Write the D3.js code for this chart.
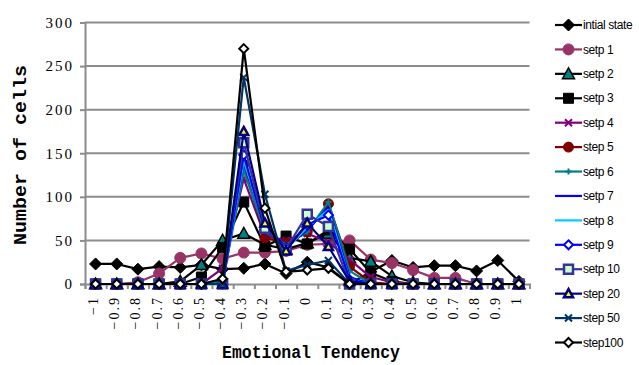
<!DOCTYPE html>
<html>
<head>
<meta charset="utf-8">
<script src="https://cdn.jsdelivr.net/npm/d3@7"></script>
<style>
  html, body { margin: 0; padding: 0; background: #fff; }
  svg { display: block; }
</style>
</head>
<body>
<svg id="chart" width="639" height="365"></svg>
<script>
// Emotional tendency categories (-1 … 1) and their axis labels
const categories = ["-1","-0.9","-0.8","-0.7","-0.6","-0.5","-0.4","-0.3","-0.2","-0.1","0",
                    "0.1","0.2","0.3","0.4","0.5","0.6","0.7","0.8","0.9","1"];
const tickLabels = ["\u22121","\u22120.9","\u22120.8","\u22120.7","\u22120.6","\u22120.5","\u22120.4",
                    "\u22120.3","\u22120.2","\u22120.1","0","0.1","0.2","0.3","0.4","0.5","0.6",
                    "0.7","0.8","0.9","1"];
const yTicks = [0, 50, 100, 150, 200, 250, 300];

// Number of cells per category at each step
const initialState = [23, 23, 17, 20, 19, 22, 17, 18, 23, 12, 25, 19, 0, 14, 27, 19, 21, 21, 15, 27, 3];
const setp1  = [0, 0, 2, 12, 30, 35, 29, 36, 36, 38, 45, 46, 50, 28, 24, 16, 7, 7, 0, 0, 0];
const setp2  = [0, 0, 0, 0, 3, 22, 50, 58, 45, 40, 47, 58, 30, 26, 9, 2, 0, 0, 0, 0, 0];
const setp3  = [0, 0, 0, 0, 0, 8, 42, 94, 43, 55, 46, 62, 40, 13, 3, 0, 0, 0, 0, 0, 0];
const setp4  = [0, 0, 0, 0, 0, 0, 18, 121, 55, 50, 58, 48, 28, 8, 2, 0, 0, 0, 0, 0, 0];
const step5  = [0, 0, 0, 0, 0, 0, 3, 137, 53, 47, 60, 92, 20, 2, 0, 0, 0, 0, 0, 0, 0];
const setp6  = [0, 0, 0, 0, 0, 0, 2, 130, 60, 45, 60, 94, 15, 0, 0, 0, 0, 0, 0, 0, 0];
const setp7  = [0, 0, 0, 0, 0, 0, 0, 140, 68, 42, 62, 88, 8, 0, 0, 0, 0, 0, 0, 0, 0];
const setp8  = [0, 0, 0, 0, 0, 0, 0, 142, 65, 40, 65, 85, 5, 0, 0, 0, 0, 0, 0, 0, 0];
const setp9  = [0, 0, 0, 0, 0, 0, 0, 148, 62, 42, 68, 79, 5, 0, 0, 0, 0, 0, 0, 0, 0];
const setp10 = [0, 0, 0, 0, 0, 0, 0, 162, 64, 40, 80, 66, 0, 0, 0, 0, 0, 0, 0, 0, 0];
const step20 = [0, 0, 0, 0, 0, 0, 0, 175, 70, 38, 70, 43, 3, 0, 0, 0, 0, 0, 0, 0, 0];
const step50 = [0, 0, 0, 0, 0, 0, 0, 237, 103, 15, 22, 27, 0, 0, 0, 0, 0, 0, 0, 0, 0];
const step100 = [0, 0, 0, 0, 0, 0, 6, 270, 87, 14, 16, 18, 0, 0, 0, 0, 0, 0, 0, 0, 0];

const seriesNames = ["intial state","setp 1","setp 2","setp 3","setp 4","step 5","setp 6",
                     "setp 7","setp 8","setp 9","setp 10","step 20","step 50","step100"];
const seriesValues = [initialState, setp1, setp2, setp3, setp4, step5, setp6,
                      setp7, setp8, setp9, setp10, step20, step50, step100];

// Line colour and marker look for each series
const styles = [
  { line: "#000000", marker: "diamond",  r: 6,   fill: "#000000", stroke: "#000000", sw: 1 },
  { line: "#993366", marker: "circle",   r: 5.5, fill: "#993366", stroke: "#993366", sw: 1 },
  { line: "#000000", marker: "triangle", r: 6,   fill: "#008080", stroke: "#000000", sw: 1.5 },
  { line: "#000000", marker: "square",   r: 5,   fill: "#000000", stroke: "#000000", sw: 1 },
  { line: "#800080", marker: "x",        r: 3.5, fill: "none",    stroke: "#800080", sw: 2 },
  { line: "#800000", marker: "circle",   r: 5,   fill: "#800000", stroke: "#800000", sw: 1 },
  { line: "#008080", marker: "plus",     r: 3,   fill: "none",    stroke: "#008080", sw: 2 },
  { line: "#0000FF", marker: null },
  { line: "#00CCFF", marker: null },
  { line: "#0000FF", marker: "diamond",  r: 4.5, fill: "#FFFFFF", stroke: "#0000FF", sw: 2 },
  { line: "#333399", marker: "square",   r: 4.5, fill: "#CCFFCC", stroke: "#333399", sw: 2.5 },
  { line: "#000080", marker: "triangle", r: 4.5, fill: "#FFFF00", stroke: "#000080", sw: 2.5 },
  { line: "#003366", marker: "x",        r: 3.5, fill: "none",    stroke: "#003366", sw: 2 },
  { line: "#000000", marker: "diamond",  r: 4.5, fill: "#FFFFFF", stroke: "#000000", sw: 2 }
];

function markerPath(type, s) {
  switch (type) {
    case "diamond":  return `M0,${-s}L${s},0L0,${s}L${-s},0Z`;
    case "square":   return `M${-s},${-s}H${s}V${s}H${-s}Z`;
    case "triangle": return `M0,${-s}L${s},${s * 0.8}L${-s},${s * 0.8}Z`;
    case "circle":   return `M${s},0A${s},${s} 0 1,1 ${-s},0A${s},${s} 0 1,1 ${s},0Z`;
    case "x":        return `M${-s},${-s}L${s},${s}M${s},${-s}L${-s},${s}`;
    case "plus":     return `M${-s},0H${s}M0,${-s}V${s}`;
  }
  return "";
}

const svg = d3.select("#chart");
const plot = { left: 85, right: 529.5, top: 22.5, bottom: 284 };

const x = d3.scaleBand().domain(categories).range([plot.left, plot.right]);
const xc = c => x(c) + x.bandwidth() / 2;
const y = d3.scaleLinear().domain([0, 300]).range([plot.bottom, plot.top]);

const grey = "#8c8c8c";
const serif = "'Liberation Serif', 'DejaVu Serif', serif";
const mono = "'Liberation Mono', 'DejaVu Sans Mono', monospace";

// Horizontal gridlines
svg.append("g")
  .selectAll("line")
  .data(yTicks.filter(t => t > 0))
  .join("line")
  .attr("x1", plot.left).attr("x2", plot.right)
  .attr("y1", d => y(d)).attr("y2", d => y(d))
  .attr("stroke", grey).attr("stroke-width", 2);

// Value axis
const yAxis = svg.append("g")
  .attr("transform", `translate(${plot.left},0)`)
  .call(d3.axisLeft(y).tickValues(yTicks).tickSize(5).tickPadding(6));
yAxis.select(".domain").attr("stroke", grey).attr("stroke-width", 2);
yAxis.selectAll(".tick line").attr("stroke", grey).attr("stroke-width", 2);
yAxis.selectAll(".tick text")
  .attr("font-family", serif).attr("font-size", 15)
  .attr("letter-spacing", "2px").attr("fill", "#000");

// Category axis: tick marks sit on the boundaries between categories
const edge = d3.scaleLinear().domain([0, categories.length]).range([plot.left, plot.right]);
const xAxis = svg.append("g")
  .attr("transform", `translate(0,${plot.bottom})`)
  .call(d3.axisBottom(edge).tickValues(d3.range(categories.length + 1)).tickSize(5).tickFormat(""));
xAxis.select(".domain").attr("stroke", grey).attr("stroke-width", 2);
xAxis.selectAll(".tick line").attr("stroke", grey).attr("stroke-width", 2);

// Category labels, turned to read upward
const labelAxis = svg.append("g")
  .attr("transform", `translate(0,${plot.bottom})`)
  .call(d3.axisBottom(x).tickSize(0).tickFormat((d, i) => tickLabels[i]));
labelAxis.select(".domain").remove();
labelAxis.selectAll(".tick text")
  .attr("font-family", serif).attr("font-size", 14)
  .attr("letter-spacing", "2px").attr("fill", "#000")
  .attr("text-anchor", "end")
  .attr("dy", null).attr("y", null)
  .attr("dominant-baseline", "central")
  .attr("transform", "translate(-2,12) rotate(-90)");

// Series lines and markers
const lineGen = d3.line().x((d, i) => xc(categories[i])).y(d => y(d));
const seriesG = svg.append("g");
seriesValues.forEach((vals, k) => {
  const st = styles[k];
  const g = seriesG.append("g");
  g.append("path").datum(vals)
    .attr("d", lineGen)
    .attr("fill", "none")
    .attr("stroke", st.line)
    .attr("stroke-width", 2.2)
    .attr("stroke-linejoin", "round");
  if (st.marker) {
    g.selectAll("path.m").data(vals).join("path")
      .attr("class", "m")
      .attr("transform", (d, i) => `translate(${xc(categories[i])},${y(d)})`)
      .attr("d", markerPath(st.marker, st.r))
      .attr("fill", st.fill)
      .attr("stroke", st.stroke)
      .attr("stroke-width", st.sw);
  }
});

// Legend
const legend = svg.append("g");
const legY = d3.scaleLinear().domain([0, seriesNames.length - 1]).range([25, 342.5]);
seriesNames.forEach((name, k) => {
  const st = styles[k];
  const ly = legY(k);
  const row = legend.append("g").attr("transform", `translate(0,${ly})`);
  row.append("line").attr("x1", 555).attr("x2", 582).attr("y1", 0).attr("y2", 0)
    .attr("stroke", st.line).attr("stroke-width", 2.2);
  if (st.marker) {
    row.append("path").attr("transform", "translate(568.5,0)")
      .attr("d", markerPath(st.marker, st.r))
      .attr("fill", st.fill).attr("stroke", st.stroke).attr("stroke-width", st.sw);
  }
  row.append("text").attr("x", 583).attr("y", 0).attr("dy", "0.35em")
    .attr("font-family", "'Liberation Sans', Arial, sans-serif")
    .attr("font-size", 12).attr("letter-spacing", "-0.4px")
    .attr("fill", "#000").text(name);
});

// Axis titles
svg.append("text")
  .attr("x", 311).attr("y", 358)
  .attr("text-anchor", "middle")
  .attr("font-family", mono).attr("font-weight", "bold").attr("font-size", 18)
  .attr("textLength", 178).attr("lengthAdjust", "spacingAndGlyphs")
  .attr("fill", "#000")
  .text("Emotional Tendency");

svg.append("text")
  .attr("transform", "translate(26,155) rotate(-90)")
  .attr("text-anchor", "middle")
  .attr("font-family", mono).attr("font-weight", "bold").attr("font-size", 18)
  .attr("textLength", 180).attr("lengthAdjust", "spacingAndGlyphs")
  .attr("fill", "#000")
  .text("Number of  cells");
</script>
</body>
</html>
